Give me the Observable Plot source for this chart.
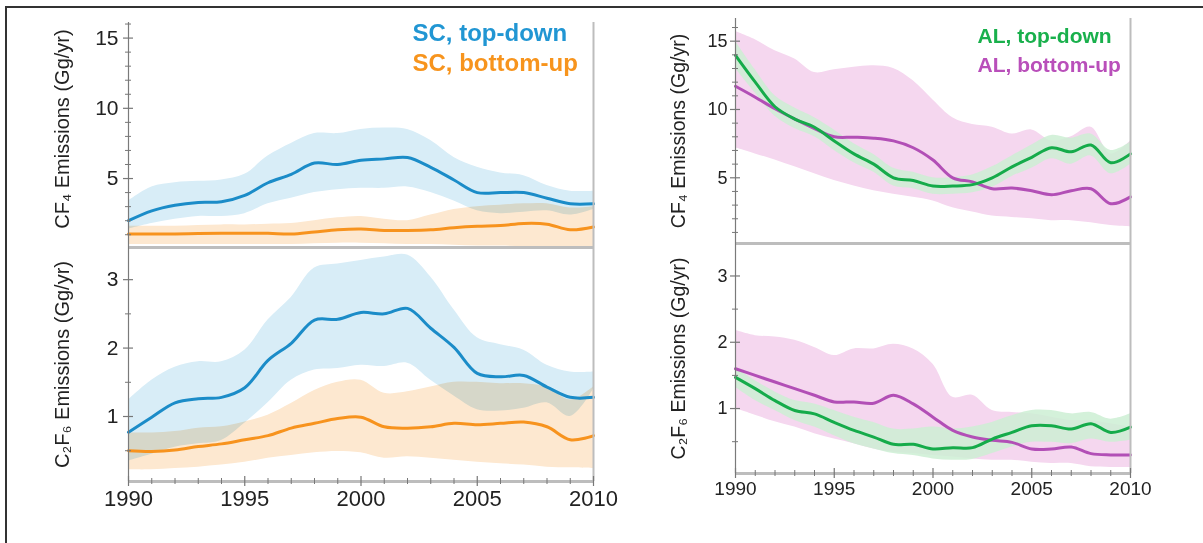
<!DOCTYPE html>
<html>
<head>
<meta charset="utf-8">
<script src="https://cdn.jsdelivr.net/npm/d3@7"></script>
<script src="https://cdn.jsdelivr.net/npm/@observablehq/plot@0.6"></script>
<style>
body { margin: 0; background: #fff; font-family: "Liberation Sans", Arial, sans-serif; }
#wrap { position: relative; width: 1203px; height: 543px; overflow: hidden; background: #fff; }
#wrap svg { position: absolute; left: 0; top: 0; }
#border { position: absolute; left: 5px; top: 6px; width: 1300px; height: 700px; border-top: 2px solid #333; border-left: 2px solid #333; }
</style>
</head>
<body>
<div id="wrap"><div id="border"></div></div>
<script>
// ---------- data ----------
const years = [1990,1991,1992,1993,1994,1995,1996,1997,1998,1999,2000,2001,2002,2003,2004,2005,2006,2007,2008,2009,2010];
const xTicksMajor = [1990, 1995, 2000, 2005, 2010];
const xTicksMinor = [1991,1992,1993,1994,1996,1997,1998,1999,2001,2002,2003,2004,2006,2007,2008,2009];

// Semiconductor (SC) CF4, top-down
const scCF4TopDown   = [2.0, 2.7, 3.1, 3.3, 3.35, 3.8, 4.7, 5.3, 6.1, 6.0, 6.3, 6.4, 6.5, 5.8, 4.9, 4.0, 4.0, 4.0, 3.6, 3.2, 3.2];
const scCF4TopDownHi = [3.4, 4.4, 4.7, 4.8, 4.9, 5.3, 6.6, 7.5, 8.2, 8.2, 8.5, 8.6, 8.5, 7.7, 6.5, 5.8, 5.4, 5.2, 4.5, 4.1, 4.1];
const scCF4TopDownLo = [1.4, 1.8, 2.1, 2.3, 2.3, 2.5, 3.2, 3.6, 4.0, 4.2, 4.3, 4.3, 4.4, 4.0, 3.4, 2.7, 2.5, 2.6, 2.7, 2.4, 2.8];
// SC CF4, bottom-up
const scCF4BottomUp   = [1.05, 1.05, 1.05, 1.08, 1.1, 1.1, 1.1, 1.05, 1.2, 1.35, 1.4, 1.3, 1.3, 1.35, 1.5, 1.6, 1.65, 1.8, 1.75, 1.35, 1.55];
const scCF4BottomUpHi = [1.6, 1.6, 1.6, 1.65, 1.7, 1.7, 1.75, 1.8, 2.0, 2.2, 2.3, 2.1, 2.0, 2.4, 2.8, 3.0, 3.1, 3.2, 3.2, 2.9, 3.0];
const scCF4BottomUpLo = [0.3, 0.3, 0.3, 0.3, 0.3, 0.3, 0.3, 0.3, 0.35, 0.4, 0.4, 0.35, 0.3, 0.3, 0.25, 0.2, 0.2, 0.15, 0.15, 0.15, 0.15];

// SC C2F6, top-down
const scC2F6TopDown   = [0.77, 0.99, 1.2, 1.26, 1.28, 1.42, 1.82, 2.07, 2.41, 2.42, 2.52, 2.5, 2.58, 2.29, 2.01, 1.63, 1.58, 1.6, 1.43, 1.28, 1.28];
const scC2F6TopDownHi = [1.24, 1.53, 1.72, 1.8, 1.8, 1.97, 2.41, 2.74, 3.17, 3.23, 3.28, 3.33, 3.36, 3.04, 2.56, 2.15, 2.05, 1.97, 1.75, 1.65, 1.65];
const scC2F6TopDownLo = [0.35, 0.45, 0.55, 0.6, 0.65, 0.9, 1.2, 1.53, 1.68, 1.7, 1.75, 1.73, 1.78, 1.53, 1.3, 1.1, 1.08, 1.12, 1.2, 1.0, 1.4];
// SC C2F6, bottom-up
const scC2F6BottomUp   = [0.5, 0.49, 0.51, 0.56, 0.6, 0.66, 0.72, 0.83, 0.9, 0.97, 0.99, 0.85, 0.83, 0.85, 0.9, 0.88, 0.9, 0.92, 0.85, 0.66, 0.72];
const scC2F6BottomUpHi = [0.76, 0.76, 0.78, 0.83, 0.85, 0.92, 1.02, 1.19, 1.38, 1.5, 1.53, 1.34, 1.36, 1.43, 1.5, 1.5, 1.48, 1.48, 1.43, 1.24, 1.43];
const scC2F6BottomUpLo = [0.22, 0.22, 0.24, 0.26, 0.29, 0.33, 0.39, 0.43, 0.47, 0.49, 0.47, 0.39, 0.41, 0.39, 0.36, 0.33, 0.31, 0.29, 0.26, 0.25, 0.24];

// Aluminium (AL) CF4, top-down
const alCF4TopDown   = [13.96, 12.0, 10.2, 9.3, 8.7, 7.7, 6.75, 6.0, 5.0, 4.8, 4.4, 4.4, 4.5, 5.0, 5.8, 6.5, 7.2, 6.9, 7.4, 6.1, 6.75];
const alCF4TopDownHi = [15.0, 12.9, 11.0, 10.1, 9.4, 8.5, 7.5, 6.7, 5.7, 5.4, 5.0, 5.0, 5.2, 5.8, 6.6, 7.4, 8.1, 7.9, 8.2, 7.0, 7.6];
const alCF4TopDownLo = [13.0, 11.2, 9.5, 8.6, 8.0, 7.0, 6.1, 5.4, 4.4, 4.2, 3.8, 3.8, 3.9, 4.3, 5.1, 5.7, 6.4, 6.0, 6.6, 5.3, 6.0];
// AL CF4, bottom-up
const alCF4BottomUp   = [11.7, 10.9, 10.05, 9.3, 8.6, 8.0, 7.97, 7.9, 7.7, 7.2, 6.3, 5.0, 4.7, 4.2, 4.25, 4.05, 3.76, 4.05, 4.2, 3.1, 3.6];
const alCF4BottomUpHi = [15.7, 15.1, 14.3, 13.7, 12.7, 12.9, 13.1, 13.2, 13.0, 12.1, 10.7, 9.4, 8.9, 8.7, 8.2, 8.5, 7.7, 8.0, 8.7, 6.75, 7.7];
const alCF4BottomUpLo = [7.2, 6.75, 6.3, 5.8, 5.3, 4.8, 4.4, 4.05, 3.8, 3.57, 3.3, 2.8, 2.5, 2.2, 2.1, 2.0, 1.86, 1.86, 1.7, 1.5, 1.4];

// AL C2F6, top-down
const alC2F6TopDown   = [1.47, 1.3, 1.12, 0.97, 0.92, 0.79, 0.67, 0.57, 0.46, 0.46, 0.39, 0.41, 0.41, 0.54, 0.64, 0.74, 0.74, 0.69, 0.77, 0.64, 0.72];
const alC2F6TopDownHi = [1.62, 1.42, 1.25, 1.12, 1.07, 0.97, 0.87, 0.79, 0.69, 0.69, 0.72, 0.69, 0.72, 0.79, 0.89, 0.97, 0.97, 0.92, 0.94, 0.84, 0.92];
const alC2F6TopDownLo = [1.32, 1.12, 0.97, 0.82, 0.72, 0.59, 0.47, 0.39, 0.32, 0.29, 0.24, 0.22, 0.23, 0.32, 0.42, 0.49, 0.49, 0.47, 0.54, 0.49, 0.52];
// AL C2F6, bottom-up
const alC2F6BottomUp   = [1.6, 1.5, 1.4, 1.3, 1.2, 1.1, 1.1, 1.08, 1.2, 1.07, 0.87, 0.67, 0.57, 0.52, 0.49, 0.39, 0.39, 0.42, 0.32, 0.3, 0.3];
const alC2F6BottomUpHi = [2.18, 2.1, 2.08, 2.03, 1.92, 1.8, 1.9, 1.9, 1.97, 1.9, 1.67, 1.17, 1.2, 0.97, 0.94, 0.92, 0.87, 0.82, 0.82, 0.77, 0.72];
const alC2F6BottomUpLo = [1.0, 0.9, 0.8, 0.72, 0.62, 0.54, 0.47, 0.39, 0.34, 0.32, 0.29, 0.27, 0.24, 0.22, 0.22, 0.19, 0.17, 0.17, 0.12, 0.11, 0.11];

const legendLeft  = ["SC, top-down", "SC, bottom-up"];
const legendRight = ["AL, top-down", "AL, bottom-up"];

// ---------- styles ----------
const C = {
  blue:    {line: "#1b8cc8", band: "#d8edf7", text: "#2196d3"},
  orange:  {line: "#f7931e", band: "#fde8d0", text: "#f7941d"},
  green:   {line: "#15ab4a", band: "#cdeed3", text: "#19b04c"},
  magenta: {line: "#b24fb6", band: "#f5d7ef", text: "#b94fba"}
};
const FONT = "'Liberation Sans', Arial, Helvetica, sans-serif";

function rows(mid, lo, hi) {
  return years.map((year, i) => ({year, mid: mid[i], lo: lo[i], hi: hi[i]}));
}

function panel(cfg) {
  const curve = "catmull-rom";
  const marks = [];
  for (const s of cfg.series) {
    marks.push(Plot.areaY(s.data, {x: "year", y1: "lo", y2: "hi", fill: s.color.band, curve,
      mixBlendMode: cfg.blend, fillOpacity: s.bandOpacity ?? 1}));
  }
  for (const s of cfg.series) {
    marks.push(Plot.lineY(s.data, {x: "year", y: "mid", stroke: s.color.line, strokeWidth: 3, curve}));
  }
  const y0 = cfg.yDomain[0];
  marks.push(
    Plot.ruleY([y0], {stroke: "#bdbdbd", strokeWidth: 3}),
    Plot.ruleX([xTicksMajor[xTicksMajor.length - 1]], {stroke: "#bdbdbd", strokeWidth: 2}),
    Plot.ruleX([xTicksMajor[0]], {stroke: "#7a7a7a", strokeWidth: 1.2}),
    // y ticks crossing the spine
    Plot.axisY({ticks: cfg.yMajor, tickSize: 10, dx: 5, tickFormat: () => "", label: null, stroke: "#777", strokeWidth: 1.2}),
    Plot.axisY({ticks: cfg.yMinor, tickSize: 6, dx: 3, tickFormat: () => "", label: null, stroke: "#777", strokeWidth: 1}),
    Plot.axisY({ticks: cfg.yMajor, tickSize: 0, tickPadding: cfg.yPad, tickFormat: d => String(d), label: null,
                fontSize: cfg.yFont, fill: "#222"}),
    Plot.text([cfg.label], {frameAnchor: "left", textAnchor: "middle", lineAnchor: "middle", rotate: -90,
                dx: cfg.labelDx, dy: cfg.labelDy || 0, fontSize: cfg.labelFont, fill: "#222"})
  );
  if (cfg.xAxis) {
    marks.push(
      Plot.axisX({ticks: xTicksMajor, tickSize: 10, dy: -5, tickFormat: () => "", label: null, stroke: "#777", strokeWidth: 1.2}),
      Plot.axisX({ticks: xTicksMinor, tickSize: 6, dy: -3, tickFormat: () => "", label: null, stroke: "#777", strokeWidth: 1}),
      Plot.axisX({ticks: xTicksMajor, tickSize: 0, tickPadding: cfg.xPad, tickFormat: d => String(d), label: null,
                  fontSize: cfg.xFont, fill: "#222"})
    );
  }
  if (cfg.legend) {
    cfg.legend.forEach((t, i) => {
      marks.push(Plot.text([t], {frameAnchor: "top-left", textAnchor: "start", lineAnchor: "middle",
                   dx: cfg.legendDx, dy: cfg.legendDy[i],
                   fontSize: cfg.legendFont, fontWeight: "bold", fill: cfg.legendColors[i]}));
    });
  }
  return Plot.plot({
    width: 1203, height: 543,
    marginLeft: cfg.m[0], marginRight: cfg.m[1], marginTop: cfg.m[2], marginBottom: cfg.m[3],
    x: {domain: [xTicksMajor[0], xTicksMajor[xTicksMajor.length - 1]], axis: null},
    y: {domain: cfg.yDomain, axis: null},
    style: {background: "transparent", fontFamily: FONT, overflow: "visible"},
    marks
  });
}

const wrap = document.getElementById("wrap");

wrap.appendChild(panel({
  m: [128, 610, 22, 296], yDomain: [0.09, 16.11], blend: "multiply",
  yMajor: [5, 10, 15], yMinor: [1,2,3,4,6,7,8,9,11,12,13,14,16], yPad: 10, yFont: 21,
  label: "CF\u2084 Emissions (Gg/yr)", labelDx: -66, labelDy: -6, labelFont: 20,
  series: [
    {data: rows(scCF4TopDown, scCF4TopDownLo, scCF4TopDownHi), color: C.blue},
    {data: rows(scCF4BottomUp, scCF4BottomUpLo, scCF4BottomUpHi), color: C.orange}
  ],
  legend: legendLeft, legendColors: [C.blue.text, C.orange.text],
  legendDx: 284, legendDy: [11, 41], legendFont: 24
}));

wrap.appendChild(panel({
  m: [128, 610, 247, 62], yDomain: [0.05, 3.47], blend: "multiply",
  yMajor: [1, 2, 3], yMinor: [0.5, 1.5, 2.5], yPad: 10, yFont: 21,
  label: "C\u2082F\u2086 Emissions (Gg/yr)", labelDx: -66, labelFont: 20,
  series: [
    {data: rows(scC2F6TopDown, scC2F6TopDownLo, scC2F6TopDownHi), color: C.blue},
    {data: rows(scC2F6BottomUp, scC2F6BottomUpLo, scC2F6BottomUpHi), color: C.orange}
  ],
  xAxis: true, xPad: 9, xFont: 22
}));

wrap.appendChild(panel({
  m: [735, 73, 18, 300], yDomain: [0.19, 16.66], blend: "normal",
  yMajor: [5, 10, 15], yMinor: [1,2,3,4,6,7,8,9,11,12,13,14,16], yPad: 8, yFont: 18,
  label: "CF\u2084 Emissions (Gg/yr)", labelDx: -57, labelFont: 19.5,
  series: [
    {data: rows(alCF4BottomUp, alCF4BottomUpLo, alCF4BottomUpHi), color: C.magenta},
    {data: rows(alCF4TopDown, alCF4TopDownLo, alCF4TopDownHi), color: C.green, bandOpacity: 0.85}
  ],
  legend: legendRight, legendColors: [C.green.text, C.magenta.text],
  legendDx: 242, legendDy: [18, 47], legendFont: 21
}));

wrap.appendChild(panel({
  m: [735, 73, 243, 70], yDomain: [0.02, 3.49], blend: "normal",
  yMajor: [1, 2, 3], yMinor: [0.5, 1.5, 2.5], yPad: 8, yFont: 18,
  label: "C\u2082F\u2086 Emissions (Gg/yr)", labelDx: -57, labelFont: 19.5,
  series: [
    {data: rows(alC2F6BottomUp, alC2F6BottomUpLo, alC2F6BottomUpHi), color: C.magenta},
    {data: rows(alC2F6TopDown, alC2F6TopDownLo, alC2F6TopDownHi), color: C.green, bandOpacity: 0.85}
  ],
  xAxis: true, xPad: 8, xFont: 19
}));
</script>
</body>
</html>
